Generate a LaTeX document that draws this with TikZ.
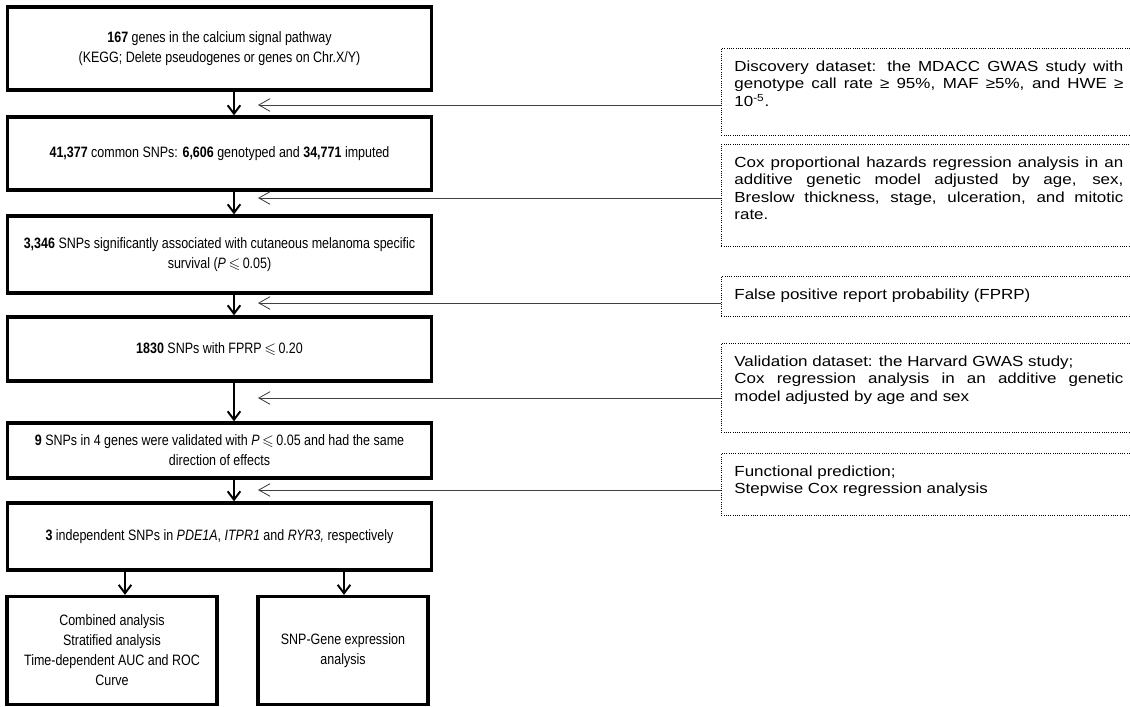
\documentclass[tikz,border=0pt]{standalone}
\usepackage{amssymb}
\usepackage{fontspec}
\setmainfont{Liberation Sans}
\newfontfamily\narrowsf{Liberation Sans}[FakeStretch=0.83]
\newfontfamily\widesf{Liberation Sans}[FakeStretch=1.16]
\usetikzlibrary{arrows.meta}

\begin{document}
\begin{tikzpicture}[
  font=\narrowsf\fontsize{10.7}{14.2}\selectfont,
  stage/.style={draw, line width=2.3pt, align=center, minimum width=10.6cm, inner sep=2pt},
  note/.style={draw, densely dotted, line width=0.6pt, anchor=north west, inner xsep=0.325cm, inner ysep=0pt,
    text width=9.725cm, align=justify, text height=0.575cm, font=\widesf\fontsize{10.4}{12.45}\selectfont},
  flow/.style={-{Straight Barb[length=6pt, width=9pt]}, line width=1.4pt},
  feed/.style={-{Straight Barb[length=8pt, width=9pt]}, line width=0.6pt, black!75},
]
\useasboundingbox (0,0) rectangle (28.25,-17.675);
\clip (0,0) rectangle (28.25,-17.675);

% main stages
\node[stage, minimum height=2.075cm] (s1) at (5.4875,-1.2125) {\textbf{167} genes in the calcium signal pathway\\ (KEGG; Delete pseudogenes or genes on Chr.X/Y)};
\node[stage, minimum height=1.825cm] (s2) at (5.4875,-3.8375) {\textbf{41,377} common SNPs: \textbf{6,606} genotyped and \textbf{34,771} imputed};
\node[stage, minimum height=1.925cm] (s3) at (5.4875,-6.3625) {\textbf{3,346} SNPs significantly associated with cutaneous melanoma specific\\ survival (\textit{P}\,$\leqslant$\,0.05)};
\node[stage, minimum height=1.6cm] (s4) at (5.4875,-8.725) {\textbf{1830} SNPs with FPRP\,$\leqslant$\,0.20};
\node[stage, minimum height=1.375cm] (s5) at (5.4875,-11.2625) {\textbf{9} SNPs in 4 genes were validated with \textit{P}\,$\leqslant$\,0.05 and had the same\\ direction of effects};
\node[stage, minimum height=1.675cm] (s6) at (5.4875,-13.4125) {\textbf{3} independent SNPs in \textit{PDE1A}, \textit{ITPR1} and \textit{RYR3,} respectively};
\node[stage, minimum width=5.25cm, minimum height=2.7cm] (comb) at (2.8,-16.2625) {Combined analysis\\ Stratified analysis\\ Time-dependent AUC and ROC\\ Curve};
\node[stage, minimum width=4.25cm, minimum height=2.7cm] (expr) at (8.575,-16.2625) {SNP-Gene expression\\ analysis};

\coordinate (ax) at (5.85,0);
\foreach \a/\b in {s1/s2,s2/s3,s3/s4,s4/s5,s5/s6} \draw[flow] (\a.south -| ax) -- (\b.north -| ax);
\coordinate (bl) at (3.125,0);
\coordinate (br) at (8.6,0);
\draw[flow] (s6.south -| bl) -- (comb.north -| bl);
\draw[flow] (s6.south -| br) -- (expr.north -| br);

% side notes
\node[note, text depth=1.6cm] (disc) at (18.025,-1.2) {Discovery dataset: the MDACC GWAS study with\linebreak genotype call rate ≥ 95\%, MAF ≥5\%, and HWE ≥\linebreak 10\textsuperscript{-5}.};
\node[note, text depth=1.975cm] (coxm) at (18.025,-3.6) {Cox proportional hazards regression analysis in an\linebreak additive genetic model adjusted by age, sex,\linebreak Breslow thickness, stage, ulceration, and mitotic\linebreak rate.};
\node[note, text depth=0.425cm] (fprp) at (18.025,-6.9) {False positive report probability (FPRP)};
\node[note, text depth=1.65cm] (vali) at (18.025,-8.575) {Validation dataset: the Harvard GWAS study;\\ Cox regression analysis in an additive genetic\linebreak model adjusted by age and sex};
\node[note, text depth=0.975cm] (func) at (18.025,-11.325) {Functional prediction;\\ Stepwise Cox regression analysis};

\coordinate (t1) at (6.45,-2.625);
\coordinate (t2) at (6.45,-4.95);
\coordinate (t3) at (6.45,-7.575);
\coordinate (t4) at (6.45,-9.95);
\coordinate (t5) at (6.45,-12.25);
\foreach \n/\t in {disc/t1,coxm/t2,fprp/t3,vali/t4,func/t5} \draw[feed] (\n.west |- \t) -- (\t);
\end{tikzpicture}
\end{document}
